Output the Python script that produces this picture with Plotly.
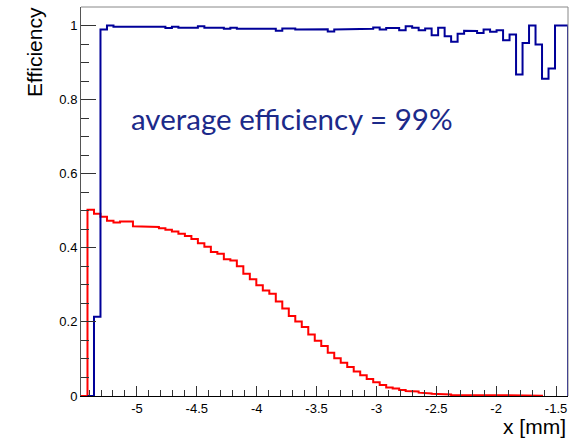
import numpy as np
import plotly.graph_objects as go

# ---- data ----
X_LO, X_HI, N_BINS = -5.467, -1.40, 75

BLUE = [None, 0.0, 0.214, 0.989, 1.0, 0.997, 0.997, 0.997, 0.997, 0.997,
        0.997, 0.997, 0.997, 0.993, 0.997, 0.994, 0.994, 0.994, 0.998, 0.994,
        0.994, 0.994, 0.991, 0.994, 0.991, 0.993, 0.992, 0.992, 0.991, 0.991,
        0.986, 0.992, 0.992, 0.989, 0.989, 0.990, 0.990, 0.990, 0.984, 0.989,
        0.989, 0.991, 0.991, 0.991, 0.991, 0.995, 0.989, 0.993, 0.993, 0.987,
        0.998, 0.994, 0.987, 0.992, 0.974, 0.994, 0.971, 0.956, 0.978, 0.986,
        0.985, 0.980, 0.989, 0.983, 0.987, 0.960, 0.976, 0.868, 0.953, 1.0,
        0.949, 0.856, 0.884, 1.0, 1.0]

RED = [0.0, 0.503, 0.492, 0.484, 0.473, 0.468, 0.471, 0.471, 0.458, 0.458,
       0.456, 0.456, 0.453, 0.449, 0.444, 0.438, 0.432, 0.424, 0.412, 0.403,
       0.389, 0.384, 0.369, 0.366, 0.350, 0.330, 0.315, 0.299, 0.285, 0.276,
       0.255, 0.236, 0.216, 0.201, 0.186, 0.166, 0.149, 0.135, 0.117, 0.102,
       0.090, 0.078, 0.066, 0.056, 0.046, 0.037, 0.030, 0.023, 0.020, 0.016,
       0.0135, 0.012, 0.009, 0.007, 0.006, 0.005, 0.004, 0.003, 0.003, 0.002,
       0.002, 0.001, 0.001, 0.001, 0.001, 0.001, 0.001, 0.001, 0.001, 0.001,
       0.001, None, None, None, None]

X_TICKS = [-5, -4.5, -4, -3.5, -3, -2.5, -2, -1.5]
X_TICK_TEXT = ["-5", "-4.5", "-4", "-3.5", "-3", "-2.5", "-2", "-1.5"]
Y_TICKS = [0, 0.2, 0.4, 0.6, 0.8, 1]
Y_TICK_TEXT = ["0", "0.2", "0.4", "0.6", "0.8", "1"]

LABEL = "average efficiency = 99%"
X_TITLE = "x [mm]"
Y_TITLE = "Efficiency"

edges = np.linspace(X_LO, X_HI, N_BINS + 1)


def step(vals):
    xs, ys = [], []
    started = False
    for i, v in enumerate(vals):
        if v is None:
            if started:
                xs.append(edges[i]); ys.append(0)
                break
            continue
        if not started:
            xs.append(edges[i]); ys.append(0)
            started = True
        xs += [edges[i], edges[i + 1]]
        ys += [v, v]
    else:
        xs.append(edges[-1]); ys.append(0)
    return xs, ys


fig = go.Figure()
rx, ry = step(RED)
bx, by = step(BLUE)
fig.add_trace(go.Scatter(x=rx, y=ry, mode="lines",
                         line=dict(color="#ff0000", width=2), hoverinfo="skip"))
fig.add_trace(go.Scatter(x=bx, y=by, mode="lines",
                         line=dict(color="#000099", width=2), hoverinfo="skip"))

tickfont = dict(family="Liberation Sans, Arial, sans-serif", size=13, color="#000")

fig.update_layout(
    width=579, height=438,
    margin=dict(l=81, r=11, t=7, b=42),
    paper_bgcolor="white", plot_bgcolor="white",
    showlegend=False,
    xaxis=dict(range=[X_LO, X_HI], showgrid=False, zeroline=False,
               showline=True, linecolor="#000", linewidth=1,
               tickmode="array", tickvals=X_TICKS, ticktext=X_TICK_TEXT,
               ticks="inside", ticklen=10, tickcolor="#333", tickwidth=1,
               minor=dict(tickmode="linear", tick0=-5, dtick=0.1,
                          ticks="inside", ticklen=6, tickcolor="#333"),
               tickfont=tickfont),
    yaxis=dict(range=[0, 1.05], showgrid=False, zeroline=False,
               showline=True, linecolor="#555", linewidth=1,
               tickmode="array", tickvals=Y_TICKS, ticktext=Y_TICK_TEXT,
               ticks="inside", ticklen=15, tickcolor="#333", tickwidth=1,
               minor=dict(tickmode="linear", tick0=0, dtick=0.05,
                          ticks="inside", ticklen=8, tickcolor="#333"),
               tickfont=tickfont),
    shapes=[
        dict(type="line", xref="paper", yref="paper", x0=0, x1=1, y0=1, y1=1,
             line=dict(color="#888", width=1)),
        dict(type="line", xref="paper", yref="paper", x0=1, x1=1, y0=0, y1=1,
             line=dict(color="#888", width=1)),
    ],
    annotations=[
        dict(text=LABEL, x=-5.065, y=0.748, xref="x", yref="y",
             xanchor="left", yanchor="middle", showarrow=False,
             font=dict(family="Lato, sans-serif", size=29.5, color="#1c2a8a")),
        dict(text=X_TITLE, x=1, y=-0.079, xref="paper", yref="paper",
             xanchor="right", yanchor="middle", showarrow=False,
             font=dict(family="Liberation Sans, Arial, sans-serif", size=21, color="#000")),
        dict(text=Y_TITLE, x=-0.0965, y=1.005, xref="paper", yref="paper",
             xanchor="center", yanchor="top", textangle=-90, showarrow=False,
             font=dict(family="Liberation Sans, Arial, sans-serif", size=21, color="#000")),
    ],
)

fig.write_html("out.html")
